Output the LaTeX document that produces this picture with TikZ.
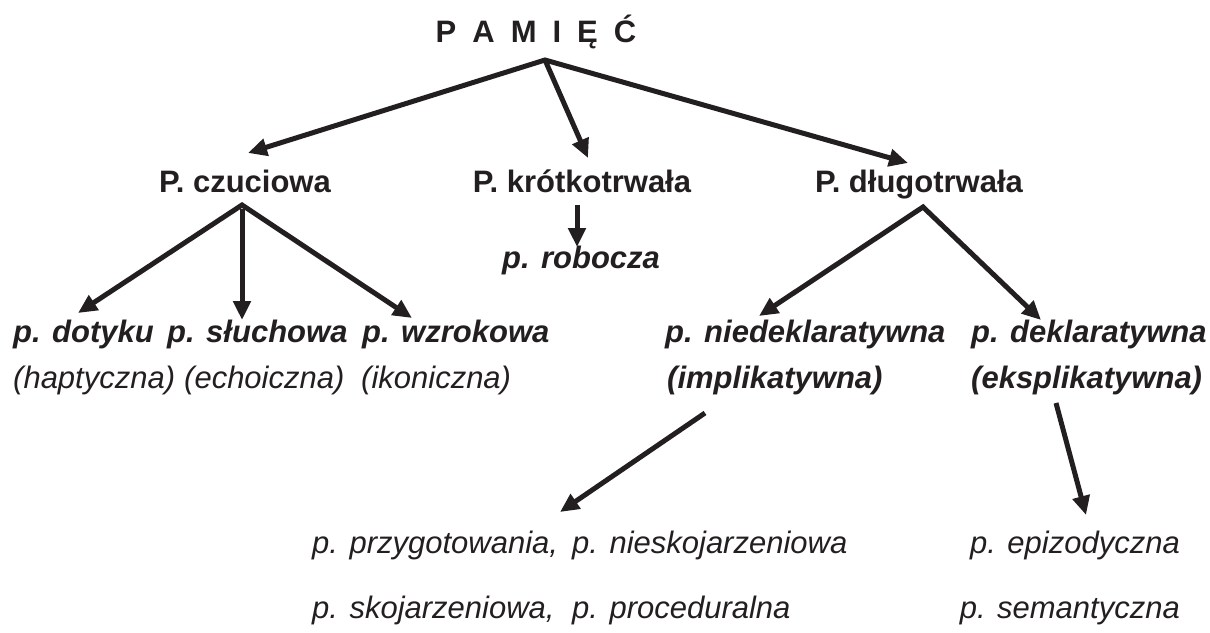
\documentclass[tikz,border=0pt]{standalone}
\usepackage{fontspec}
\setmainfont{Liberation Sans}
\usetikzlibrary{arrows.meta}
\definecolor{ink}{HTML}{231F20}
\begin{document}
\begin{tikzpicture}[x=1pt,y=-1pt,
  every node/.style={inner sep=0pt, text=ink},
  tb/.style={font=\fontsize{31}{37}\selectfont\bfseries},
  bi/.style={font=\fontsize{31}{37}\selectfont\bfseries\itshape},
  ri/.style={font=\fontsize{31}{37}\selectfont\itshape},
  tip/.tip={Triangle[length=19pt,width=17pt]},
  arr/.style={draw=ink, line width=5pt, -tip},
  dbl/.style={draw=ink, line width=5pt, tip-tip}]
\useasboundingbox (0,0) rectangle (1210,632);

% texts
\node[tb, anchor=base] (pam) at (536,42) {P\hspace{16pt}A\hspace{16pt}M\hspace{16pt}I\hspace{16pt}Ę\hspace{16pt}Ć};
\node[tb, anchor=base] (czu) at (245,192) {P. czuciowa};
\node[tb, anchor=base] (kro) at (582,192) {P. krótkotrwała};
\node[tb, anchor=base] (dlu) at (919,192) {P. długotrwała};
\node[bi, anchor=base] (rob) at (581,268) {p. robocza};
\node[bi, anchor=base west] (dot) at (13,342) {p. dotyku};
\node[bi, anchor=base west] (slu) at (167,342) {p. słuchowa};
\node[bi, anchor=base west] (wzr) at (362,342) {p. wzrokowa};
\node[ri, anchor=base west] (hap) at (13,388) {(haptyczna)};
\node[ri, anchor=base west] (ech) at (184,388) {(echoiczna)};
\node[ri, anchor=base west] (iko) at (361,388) {(ikoniczna)};
\node[bi, anchor=base west] (nie) at (665,342) {p. niedeklaratywna};
\node[bi, anchor=base west] (imp) at (667,388) {(implikatywna)};
\node[bi, anchor=base west] (dek) at (971,342) {p. deklaratywna};
\node[bi, anchor=base west] (eks) at (971,388) {(eksplikatywna)};
\node[ri, anchor=base west] (prz) at (312,553) {p. przygotowania,};
\node[ri, anchor=base west] (nsk) at (572,553) {p. nieskojarzeniowa};
\node[ri, anchor=base west] (sko) at (312,618) {p. skojarzeniowa,};
\node[ri, anchor=base west] (pro) at (572,618) {p. proceduralna};
\node[ri, anchor=base east] (epi) at (1180,553) {p. epizodyczna};
\node[ri, anchor=base east] (sem) at (1180,618) {p. semantyczna};

% connector ends
\coordinate (pamA) at (545,60);
\coordinate (czuA) at (242,205);
\coordinate (czuB) at (242,209);
\coordinate (kroA) at (577,205);
\coordinate (dluA) at (923,207);
\coordinate (impA) at (705,413);
\coordinate (eksA) at (1056,403);
\coordinate (czuT) at (248,153);
\coordinate (kroT) at (588,158);
\coordinate (dluT) at (908,163);
\coordinate (dotT) at (78,313);
\coordinate (sluT) at (242,320);
\coordinate (wzrT) at (412,318);
\coordinate (robT) at (577,247);
\coordinate (nieT) at (759,316);
\coordinate (dekT) at (1041,320);
\coordinate (przT) at (560,512);
\coordinate (epiT) at (1086,515);

% connectors
\draw[dbl] (czuT) -- (pamA) -- (dluT);
\draw[arr] (pamA) -- (kroT);
\draw[dbl] (dotT) -- (czuA) -- (wzrT);
\draw[arr] (czuB) -- (sluT);
\draw[arr] (kroA) -- (robT);
\draw[dbl] (nieT) -- (dluA) -- (dekT);
\draw[arr] (impA) -- (przT);
\draw[arr] (eksA) -- (epiT);
\end{tikzpicture}
\end{document}
